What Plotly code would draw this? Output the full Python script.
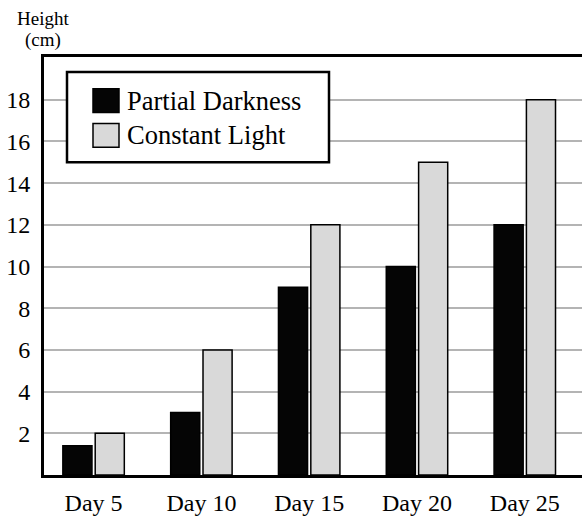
import plotly.graph_objects as go

days = ["Day 5", "Day 10", "Day 15", "Day 20", "Day 25"]
partial_darkness = [1.4, 3, 9, 10, 12]
constant_light = [2, 6, 12, 15, 18]
series_names = ["Partial Darkness", "Constant Light"]
y_ticks = [2, 4, 6, 8, 10, 12, 14, 16, 18]

W, H = 592, 516
L, T, B, R = 44, 57, 38, 0
pw, ph = W - L - R, H - T - B
X0, Y1 = L, H - B
PX_PER_CAT = 107.8
X_LEFT = -0.46

def px(x):
    return (x - X0) / pw

def py(y):
    return (Y1 - y) / ph

FONT = "Liberation Serif"

fig = go.Figure()
fig.add_trace(go.Bar(x=days, y=partial_darkness, name=series_names[0],
                     marker=dict(color="#050505", line=dict(color="black", width=1.5))))
fig.add_trace(go.Bar(x=days, y=constant_light, name=series_names[1],
                     marker=dict(color="#d9d9d9", line=dict(color="black", width=1.5))))

fig.update_layout(
    width=W, height=H,
    margin=dict(l=L, r=R, t=T, b=B, pad=0),
    paper_bgcolor="white", plot_bgcolor="white",
    barmode="group", bargap=0.4, bargroupgap=0.1,
    showlegend=False,
    font=dict(family=FONT, color="black", size=23),
    xaxis=dict(type="category", range=[X_LEFT, X_LEFT + pw / PX_PER_CAT], showgrid=False,
               showline=True, linecolor="black", linewidth=3, mirror=True,
               ticks="", ticklabelstandoff=4, tickfont=dict(size=24, family=FONT)),
    yaxis=dict(range=[0, 20.05], tickvals=y_ticks, showgrid=True,
               gridcolor="#b4b4b4", gridwidth=2, zeroline=False,
               showline=True, linecolor="black", linewidth=3, mirror=False,
               ticks="", ticklabelstandoff=6, tickfont=dict(size=24, family=FONT)),
)

shapes = [
    dict(type="rect", xref="paper", yref="paper", x0=px(67), x1=px(329), y0=py(163), y1=py(72),
         line=dict(color="black", width=2.5), fillcolor="white", layer="above"),
    dict(type="rect", xref="paper", yref="paper", x0=px(93), x1=px(119), y0=py(113), y1=py(89),
         line=dict(color="black", width=1.5), fillcolor="#050505", layer="above"),
    dict(type="rect", xref="paper", yref="paper", x0=px(93), x1=px(119), y0=py(148), y1=py(124),
         line=dict(color="black", width=1.5), fillcolor="#d9d9d9", layer="above"),
]
fig.update_layout(shapes=shapes)

fig.add_annotation(xref="paper", yref="paper", x=px(125), y=py(101), text=series_names[0],
                   showarrow=False, xanchor="left", yanchor="middle", font=dict(size=26.5, family=FONT))
fig.add_annotation(xref="paper", yref="paper", x=px(125), y=py(136), text=series_names[1],
                   showarrow=False, xanchor="left", yanchor="middle", font=dict(size=26.5, family=FONT))

fig.add_annotation(xref="paper", yref="paper", x=px(43), y=py(18), text="Height",
                   showarrow=False, xanchor="center", yanchor="middle", font=dict(size=19, family=FONT))
fig.add_annotation(xref="paper", yref="paper", x=px(43), y=py(40), text="(cm)",
                   showarrow=False, xanchor="center", yanchor="middle", font=dict(size=19, family=FONT))

fig.write_html("out.html", config={"displayModeBar": False},
               post_script="document.body.style.margin='0';document.body.style.overflow='hidden';")
